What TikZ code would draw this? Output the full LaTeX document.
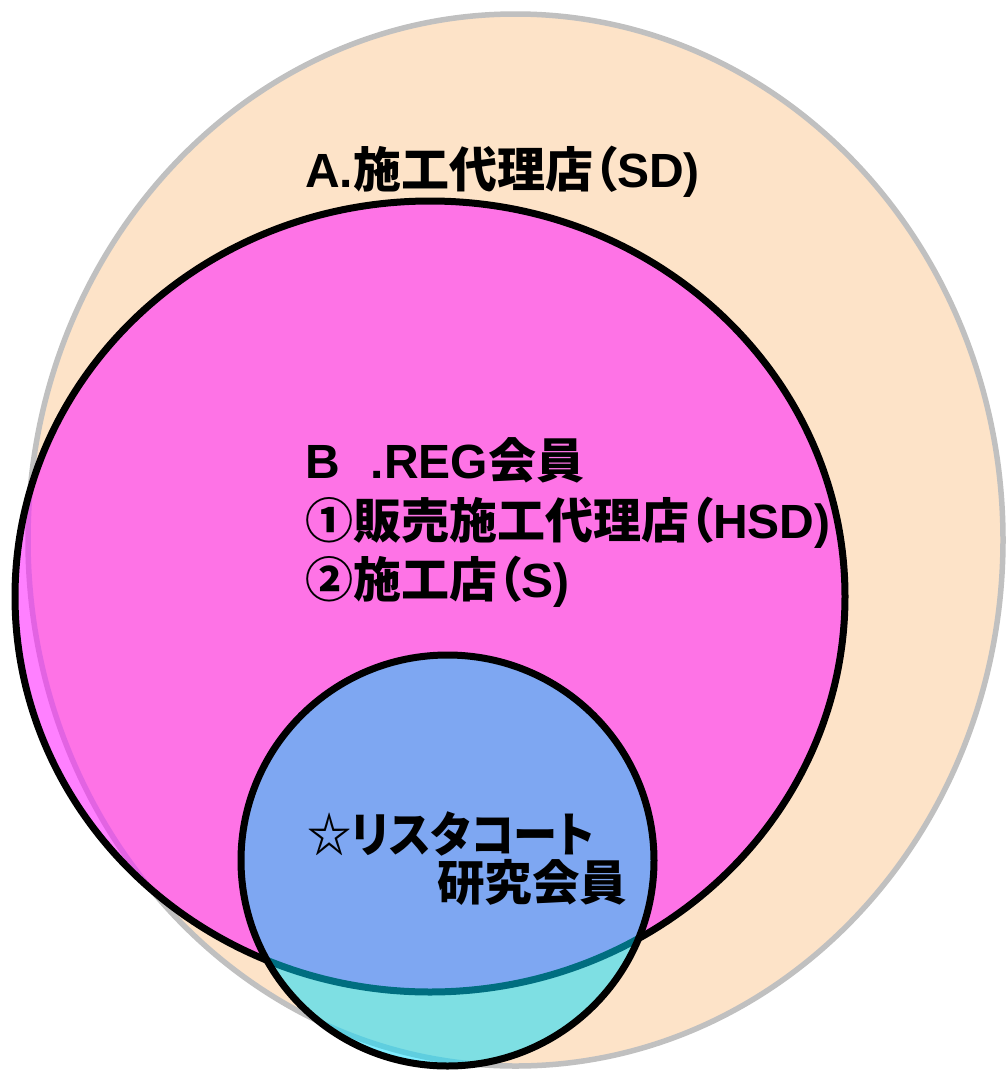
\documentclass[tikz,border=0pt]{standalone}
\usepackage{fontspec}
\setmainfont{Liberation Sans}
\newfontfamily\cjk{Noto Sans CJK JP}[RawFeature=+palt]
\newcommand\J[1]{{\cjk #1}}
\definecolor{peachfill}{RGB}{253,227,200}
\definecolor{peachline}{RGB}{192,192,192}
\definecolor{magentafill}{RGB}{255,24,255}
\definecolor{cyanfill}{RGB}{0,220,255}
\tikzset{
  lbl/.style={anchor=base west, inner sep=0pt, font=\fontsize{48}{48}\selectfont\bfseries},
  outerset/.style={line width=5.5pt, draw=peachline, fill=peachfill},
  midset/.style={line width=7pt, draw=black, fill=magentafill, fill opacity=0.55},
  innerset/.style={line width=7pt, draw=black, fill=cyanfill, fill opacity=0.5}
}
\begin{document}
\begin{tikzpicture}[x=1pt,y=-1pt]
\useasboundingbox (0,0) rectangle (1008,1071);
\fill[white] (0,0) rectangle (1008,1071);
\draw[outerset] (515.5,540) ellipse [x radius=487.5pt, y radius=526pt];
\draw[midset] (430,596.5) ellipse [x radius=415pt, y radius=395.5pt];
\draw[innerset] (447.5,860.5) ellipse [x radius=206.5pt, y radius=205.5pt];
\node[lbl] (ta) at (305,187) {A.\J{施工代理店（}SD)};
\node[lbl] (tb) at (305,478) {B\hspace*{31pt}.REG\J{会員}};
\node[lbl] (tb1) at (305,538) {\J{①販売施工代理店（}HSD)};
\node[lbl] (tb2) at (305,597) {\J{②施工店（}S)};
\node[lbl] (tc1) at (307,852) {\scalebox{0.92}[1]{\J{☆リスタコート}}};
\node[lbl] (tc2) at (437,900) {\scalebox{0.99}[1]{\J{研究会員}}};
\end{tikzpicture}
\end{document}
